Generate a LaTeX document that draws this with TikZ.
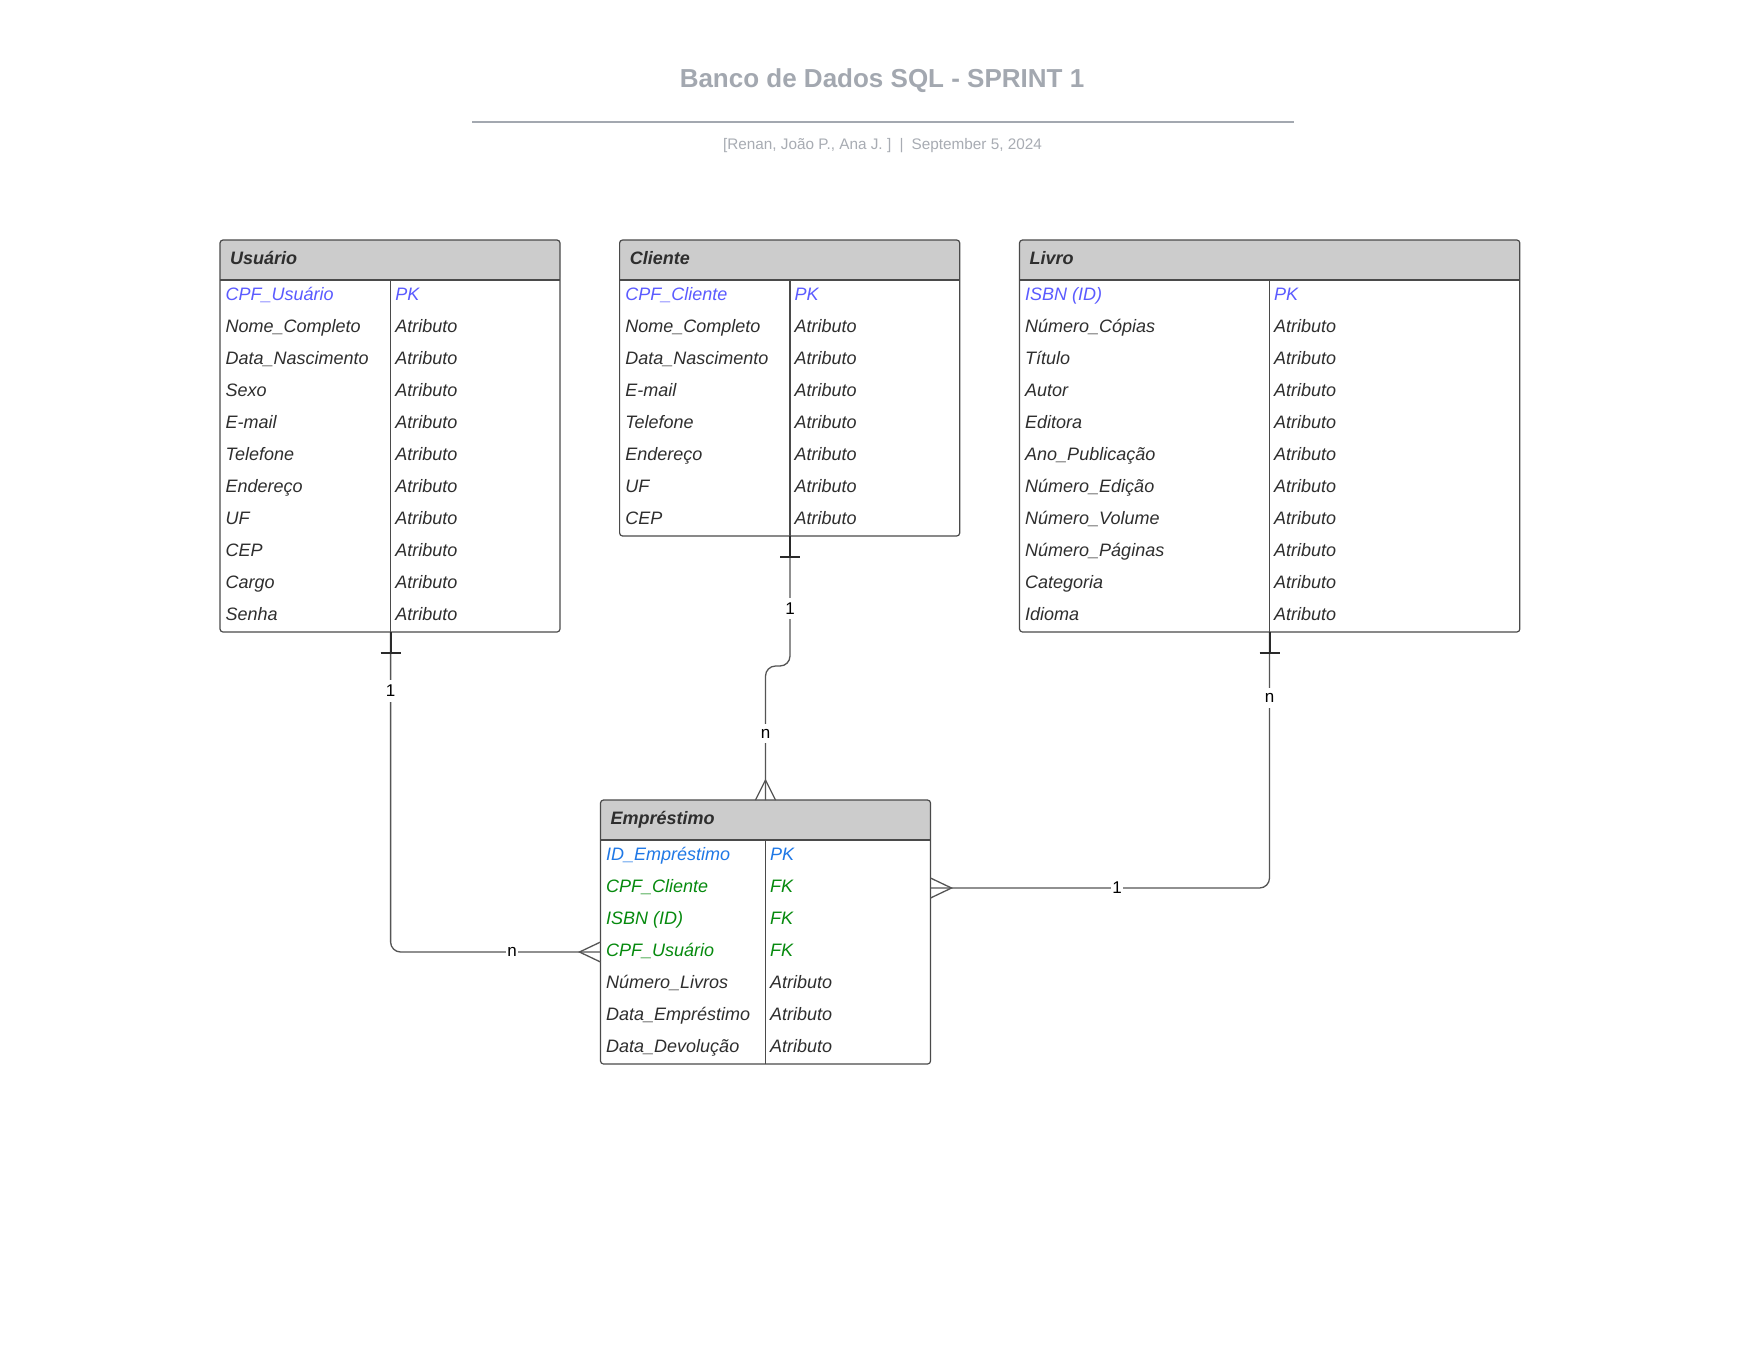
\documentclass[tikz,border=0pt]{standalone}
\usepackage{fontspec}
\setmainfont{Liberation Sans}
\usetikzlibrary{calc}
\definecolor{pkc}{HTML}{5B5BFF}
\definecolor{idc}{HTML}{1F78E6}
\definecolor{fkc}{HTML}{068A0E}
\definecolor{txt}{HTML}{2E2E2E}
\definecolor{hdr}{HTML}{CCCCCC}
\definecolor{edge}{HTML}{4A4A4A}
\definecolor{ttl}{HTML}{A3A8B0}
\definecolor{subc}{HTML}{A8ACB3}
\definecolor{conc}{HTML}{555555}
\definecolor{barc}{HTML}{2A2A2A}

\newcommand\ertable[8]{%
  \fill[hdr, rounded corners=3pt] (#3,#6) rectangle (#5,#6+40);
  \fill[hdr] (#3,#6+20) rectangle (#5,#6+40);
  \node[frame, minimum width={(#5-#3)*1pt}, minimum height={(40+32*#7)*1pt}] (#1) at (#3,#6) {};
  \draw[tline] (#3,#6+40) -- (#5,#6+40);
  \draw[tline] (#4,#6+40) -- (#4,#6+40+32*#7);
  \coordinate (#1-div) at (#4,#6+40+32*#7);
  \coordinate (#1-top) at (#4,#6);
  \node[htext] (#1-h) at (#3+10,#6+24.5) {#2};
  \foreach \a/\b/\s [count=\i] in {#8} {
    \coordinate (#1-r\i) at (#3,#6+40+32*\i-16);
    \coordinate (#1-R\i) at (#5,#6+40+32*\i-16);
    \node[cell, text=\s] (#1-a\i) at (#3+5.5,#6+40+32*\i-12) {\a};
    \node[cell, text=\s] (#1-b\i) at (#4+4.5,#6+40+32*\i-12) {\b};
  }
}

\begin{document}
\begin{tikzpicture}[x=1pt,y=-1pt,
  frame/.style={draw=edge, line width=1.2pt, rounded corners=3pt, anchor=north west, inner sep=0pt, outer sep=0pt},
  tline/.style={draw=edge, line width=1.2pt},
  htext/.style={anchor=base west, inner sep=0pt, text=txt, font=\fontsize{18}{21}\selectfont\bfseries\itshape},
  cell/.style={anchor=base west, inner sep=0pt, font=\fontsize{18}{21}\selectfont\itshape},
  conn/.style={draw=conc, line width=1.3pt},
  onebar/.style={draw=barc, line width=2pt},
  lbl/.style={fill=white, inner xsep=1.5pt, inner ysep=5pt, text=black, font=\fontsize{17}{19}\selectfont},
  titlestyle/.style={anchor=base, inner sep=0pt, text=ttl, font=\fontsize{26}{30}\selectfont\bfseries},
  substyle/.style={anchor=base, inner sep=0pt, text=subc, font=\fontsize{15.3}{18}\selectfont}
]
\useasboundingbox (0,0) rectangle (1760,1360);
\fill[white] (0,0) rectangle (1760,1360);

\node[titlestyle] (title) at (882,87) {Banco de Dados SQL - SPRINT 1};
\coordinate (ruleL) at (472,122);
\coordinate (ruleR) at (1294,122);
\draw[draw=ttl, line width=2pt] (ruleL) -- (ruleR);
\node[substyle] (subtitle) at (882.5,149.5) {[Renan, João P., Ana J. ]\hspace{8.5pt}|\hspace{8pt}September 5, 2024};

\ertable{usuario}{Usuário}{220}{390.6}{560}{240}{11}{%
  CPF\_Usuário/PK/pkc, Nome\_Completo/Atributo/txt, Data\_Nascimento/Atributo/txt,
  Sexo/Atributo/txt, E-mail/Atributo/txt, Telefone/Atributo/txt, Endereço/Atributo/txt,
  UF/Atributo/txt, CEP/Atributo/txt, Cargo/Atributo/txt, Senha/Atributo/txt}

\ertable{cliente}{Cliente}{619.6}{790}{959.7}{240}{8}{%
  CPF\_Cliente/PK/pkc, Nome\_Completo/Atributo/txt, Data\_Nascimento/Atributo/txt,
  E-mail/Atributo/txt, Telefone/Atributo/txt, Endereço/Atributo/txt,
  UF/Atributo/txt, CEP/Atributo/txt}

\ertable{livro}{Livro}{1019.5}{1269.5}{1519.8}{240}{11}{%
  ISBN (ID)/PK/pkc, Número\_Cópias/Atributo/txt, Título/Atributo/txt, Autor/Atributo/txt,
  Editora/Atributo/txt, Ano\_Publicação/Atributo/txt, Número\_Edição/Atributo/txt,
  Número\_Volume/Atributo/txt, Número\_Páginas/Atributo/txt, Categoria/Atributo/txt,
  Idioma/Atributo/txt}

\ertable{emprestimo}{Empréstimo}{600.5}{765.5}{930.5}{800}{7}{%
  ID\_Empréstimo/PK/idc, CPF\_Cliente/FK/fkc, ISBN (ID)/FK/fkc, CPF\_Usuário/FK/fkc,
  Número\_Livros/Atributo/txt, Data\_Empréstimo/Atributo/txt, Data\_Devolução/Atributo/txt}

% Usuario -> Emprestimo
\draw[conn, rounded corners=10pt] (usuario-div) |- (emprestimo-r4);
\draw[onebar] (usuario-div) -- ($(usuario-div)+(0,20.5)$);
\draw[onebar] ($(usuario-div)+(-10,20.5)$) -- ($(usuario-div)+(10,20.5)$);
\draw[conn] ($(emprestimo-r4)+(0,-10)$) -- ($(emprestimo-r4)+(-21,0)$) -- ($(emprestimo-r4)+(0,10)$);
\node[lbl] (u1) at (390.6,691) {1};
\node[lbl] (un) at (512,951.5) {n};

% Cliente -> Emprestimo
\draw[conn, rounded corners=10pt] (cliente-div) -- ++(0,130) -| (emprestimo-top);
\draw[onebar] (cliente-div) -- ($(cliente-div)+(0,20.5)$);
\draw[onebar] ($(cliente-div)+(-10,20.5)$) -- ($(cliente-div)+(10,20.5)$);
\draw[conn] ($(emprestimo-top)+(-10,0)$) -- ($(emprestimo-top)+(0,-20)$) -- ($(emprestimo-top)+(10,0)$);
\node[lbl] (c1) at (790,608.5) {1};
\node[lbl] (cn) at (765.5,733.5) {n};

% Livro -> Emprestimo
\draw[conn, rounded corners=10pt] (livro-div) |- (emprestimo-R2);
\draw[onebar] (livro-div) -- ($(livro-div)+(0,20.5)$);
\draw[onebar] ($(livro-div)+(-10,20.5)$) -- ($(livro-div)+(10,20.5)$);
\draw[conn] ($(emprestimo-R2)+(0,-10)$) -- ($(emprestimo-R2)+(21,0)$) -- ($(emprestimo-R2)+(0,10)$);
\node[lbl] (ln) at (1269.5,698) {n};
\node[lbl] (l1) at (1117,887.5) {1};
\end{tikzpicture}
\end{document}
